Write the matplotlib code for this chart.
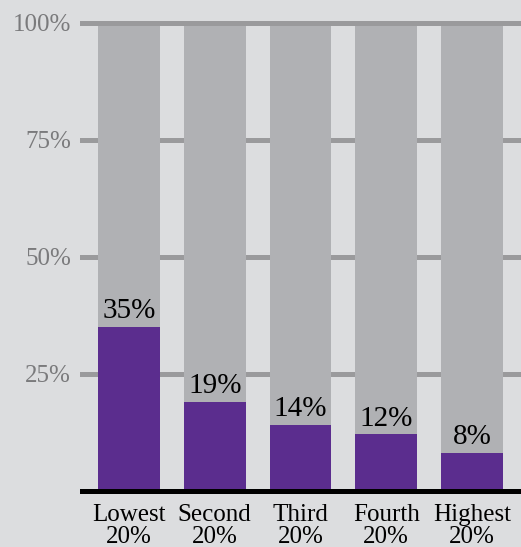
import matplotlib
matplotlib.use("Agg")
import matplotlib.pyplot as plt

categories = ["Lowest\n20%", "Second\n20%", "Third\n20%", "Fourth\n20%", "Highest\n20%"]
values = [35, 19, 14, 12, 8]
total = [100, 100, 100, 100, 100]
yticks = [25, 50, 75, 100]
ytick_labels = ["25%", "50%", "75%", "100%"]

BG = "#dcdddf"
GRAY = "#b0b1b4"
PURPLE = "#5b2d8e"
GRID = "#9a9a9c"
FONT = "Liberation Serif"

W, H = 521, 547
fig = plt.figure(figsize=(W / 100, H / 100), dpi=100, facecolor=BG)
ax = fig.add_axes([82 / W, (H - 490.5) / H, (W - 82) / W, (490.5 - 22.5) / H])
ax.set_facecolor(BG)
ax.set_xlim(-0.547, 4.57)
ax.set_ylim(0, 100)

x = list(range(len(categories)))
for yv in yticks:
    ax.axhline(yv, color=GRID, lw=3.6, zorder=3 if yv == 100 else 0.5, clip_on=False)

ax.bar(x, total, width=0.72, color=GRAY, zorder=1)
ax.bar(x, values, width=0.72, color=PURPLE, zorder=2)
ax.axhline(0, color="black", lw=3.6, zorder=4, clip_on=False)

for xi, v in zip(x, values):
    ax.annotate(f"{v}%", (xi, v), xytext=(0, 2), textcoords="offset points",
                ha="center", va="bottom", fontsize=21, family=FONT,
                color="black", zorder=5)

ax.set_yticks(yticks)
ax.set_yticklabels(ytick_labels, family=FONT, fontsize=18, color="#7a7a7c")
ax.set_xticks(x)
ax.set_xticklabels(categories, family=FONT, fontsize=18, color="black",
                   linespacing=1.0)
ax.tick_params(axis="y", length=0, pad=8)
ax.tick_params(axis="x", length=0, pad=10)
for s in ax.spines.values():
    s.set_visible(False)

fig.savefig("out.png", dpi=100, facecolor=BG)
